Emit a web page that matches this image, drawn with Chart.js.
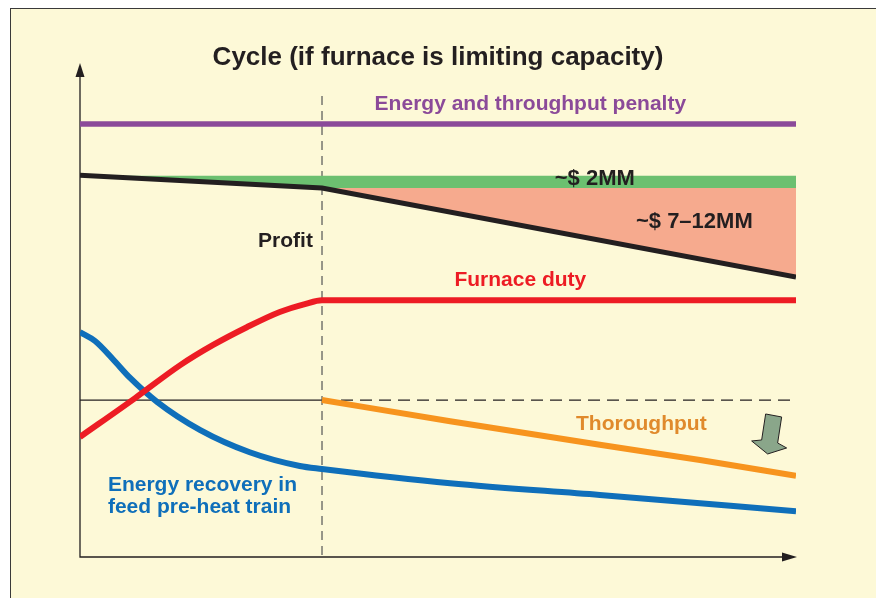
<!DOCTYPE html>
<html>
<head>
<meta charset="utf-8">
<script src="https://cdn.jsdelivr.net/npm/chart.js@4"></script>
<style>
html, body { margin: 0; background: #fff; overflow: hidden; }
#frame { position: absolute; left: 10px; top: 8px; right: 0; bottom: 0; background: #fdf9d7;
  border-left: 1px solid #3a3a3a; border-top: 1px solid #3a3a3a; }
#wrap { position: absolute; left: 0; top: 0; width: 876px; height: 598px; }
</style>
</head>
<body>
<div id="frame"></div>
<div id="wrap"><canvas id="cycle"></canvas></div>
<script>
// time along the cycle (0..100), values in arbitrary units (0..100)
var penaltyX = [0, 100];
var penalty = [88, 88];

var profitX = [0, 33.8, 100];
var profit = [77.6, 75.0, 56.9];
var marginTop = [77.5, 77.5, 77.5];   // upper edge of the ~$2MM band
var marginMid = [77.6, 75.0, 75.0];   // between ~$2MM and ~$7-12MM

var furnaceX = [0, 7.7, 14.0, 18.6, 23.3, 27.9, 31.4, 33.8, 100];
var furnace = [24.4, 32.3, 39.0, 43.1, 46.7, 49.8, 51.4, 52.2, 52.2];

var recoveryX = [0, 2.1, 4.6, 7.0, 10.8, 16.8, 23.7, 30.7, 33.8, 51.7, 72.6, 100];
var recovery = [45.7, 43.9, 40.2, 36.4, 31.5, 25.8, 21.3, 18.5, 17.9, 15.0, 12.6, 9.3];

var throughputX = [33.8, 51.7, 72.6, 86.6, 100];
var throughput = [31.9, 27.6, 22.8, 19.7, 16.5];

var limitX = 33.8;     // furnace reaches its limit
var baseLevel = 31.9;  // reference throughput level

var FONT = "'Liberation Sans', Arial, sans-serif";

// text labels: [text, x, y, colour, size, align]
var labels = [
    ["Energy and throughput penalty", 62.9, 92.1, "#8b4a99", 21, "center"],
    ["~$ 2MM", 71.9, 76.8, "#231f20", 22, "center"],
    ["~$ 7\u201312MM", 85.8, 68.1, "#231f20", 22, "center"],
    ["Profit", 28.7, 64.2, "#231f20", 21, "center"],
    ["Furnace duty", 61.5, 56.3, "#ed1c24", 21, "center"],
    ["Thoroughput", 78.4, 27.0, "#e08a2c", 21, "center"],
    ["Energy recovery in", 3.9, 14.6, "#0f6fba", 21, "left"],
    ["feed pre-heat train", 3.9, 10.2, "#0f6fba", 21, "left"]
];

function pts(xs, ys) {
    return xs.map(function (x, i) { return { x: x, y: ys[i] }; });
}

var decor = {
    id: 'decor',
    beforeDraw: function (chart) {
        var ctx = chart.ctx, a = chart.chartArea;
        var sx = chart.scales.x, sy = chart.scales.y;
        var xl = sx.getPixelForValue(limitX), yb = sy.getPixelForValue(baseLevel);
        ctx.save();
        // reference throughput line
        ctx.strokeStyle = '#231f20';
        ctx.lineWidth = 1.2;
        ctx.beginPath(); ctx.moveTo(a.left, yb); ctx.lineTo(xl, yb); ctx.stroke();
        ctx.setLineDash([12, 7]);
        ctx.beginPath(); ctx.moveTo(xl, yb); ctx.lineTo(a.right, yb); ctx.stroke();
        // furnace limit marker
        ctx.strokeStyle = '#555';
        ctx.setLineDash([9, 6]);
        ctx.beginPath(); ctx.moveTo(xl, sy.getPixelForValue(93.7)); ctx.lineTo(xl, a.bottom); ctx.stroke();
        ctx.setLineDash([]);
        // axes with arrow heads
        ctx.strokeStyle = '#231f20';
        ctx.fillStyle = '#231f20';
        ctx.lineWidth = 1.3;
        ctx.beginPath();
        ctx.moveTo(a.left, a.top + 6); ctx.lineTo(a.left, a.bottom); ctx.lineTo(a.right - 6, a.bottom);
        ctx.stroke();
        ctx.beginPath();
        ctx.moveTo(a.left, a.top - 2); ctx.lineTo(a.left - 4.5, a.top + 12); ctx.lineTo(a.left + 4.5, a.top + 12);
        ctx.closePath(); ctx.fill();
        ctx.beginPath();
        ctx.moveTo(a.right + 1, a.bottom); ctx.lineTo(a.right - 14, a.bottom - 4.5); ctx.lineTo(a.right - 14, a.bottom + 4.5);
        ctx.closePath(); ctx.fill();
        ctx.restore();
    },
    afterDatasetsDraw: function (chart) {
        var ctx = chart.ctx;
        var sx = chart.scales.x, sy = chart.scales.y;
        ctx.save();
        ctx.textBaseline = 'middle';
        ctx.fillStyle = '#231f20';
        ctx.textAlign = 'center';
        ctx.font = 'bold 26px ' + FONT;
        ctx.fillText('Cycle (if furnace is limiting capacity)', chart.width / 2, 58);
        labels.forEach(function (l) {
            ctx.font = 'bold ' + l[4] + 'px ' + FONT;
            ctx.fillStyle = l[3];
            ctx.textAlign = l[5];
            ctx.fillText(l[0], sx.getPixelForValue(l[1]), sy.getPixelForValue(l[2]));
        });
        // down arrow: throughput falling
        var ax = sx.getPixelForValue(96.6), ay = sy.getPixelForValue(24.8);
        var shape = [[-6, -21], [10, -18], [6, 8], [15, 13], [-4, 19], [-20, 6], [-10, 5]];
        ctx.beginPath();
        shape.forEach(function (p, i) {
            if (i === 0) ctx.moveTo(ax + p[0], ay + p[1]); else ctx.lineTo(ax + p[0], ay + p[1]);
        });
        ctx.closePath();
        ctx.fillStyle = '#8aa68a';
        ctx.fill();
        ctx.strokeStyle = '#231f20';
        ctx.lineWidth = 1;
        ctx.stroke();
        ctx.restore();
    }
};

new Chart('cycle', {
    type: 'line',
    data: {
        datasets: [{
            data: pts(penaltyX, penalty),
            borderColor: '#8b4a99',
            borderWidth: 5.5
        }, {
            data: pts(profitX, marginTop),
            borderWidth: 0,
            borderColor: 'rgba(0,0,0,0)',
            backgroundColor: '#6cc070',
            fill: 2
        }, {
            data: pts(profitX, marginMid),
            borderWidth: 0,
            borderColor: 'rgba(0,0,0,0)',
            backgroundColor: '#f6aa8e',
            fill: 3
        }, {
            data: pts(profitX, profit),
            borderColor: '#231f20',
            borderWidth: 5
        }, {
            data: pts(furnaceX, furnace),
            borderColor: '#ed1c24',
            borderWidth: 6,
            cubicInterpolationMode: 'monotone'
        }, {
            data: pts(throughputX, throughput),
            borderColor: '#f7941e',
            borderWidth: 6,
            cubicInterpolationMode: 'monotone'
        }, {
            data: pts(recoveryX, recovery),
            borderColor: '#0f6fba',
            borderWidth: 6,
            cubicInterpolationMode: 'monotone'
        }]
    },
    options: {
        responsive: true,
        maintainAspectRatio: false,
        animation: false,
        layout: { padding: { left: 80, right: 80, top: 65, bottom: 41 } },
        elements: { point: { radius: 0 } },
        scales: {
            x: { type: 'linear', min: 0, max: 100, display: false },
            y: { min: 0, max: 100, display: false }
        },
        plugins: {
            legend: { display: false },
            tooltip: { enabled: false },
            filler: { drawTime: 'beforeDatasetsDraw' }
        }
    },
    plugins: [decor]
});
</script>
</body>
</html>
